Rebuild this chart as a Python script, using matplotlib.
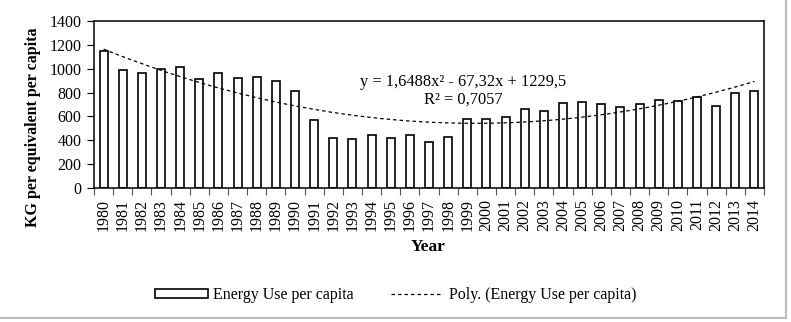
import numpy as np
import matplotlib
matplotlib.use("Agg")
import matplotlib.pyplot as plt
from matplotlib.patches import Patch
from matplotlib.lines import Line2D

plt.rcParams['font.family'] = ['Liberation Serif', 'DejaVu Serif']
plt.rcParams['font.size'] = 11

anos = [str(a) for a in range(1980, 2015)]
energia = [1150, 990, 967, 998, 1017, 914, 964, 922, 928, 897, 813,
           573, 419, 413, 441, 419, 447, 383, 425, 576, 581, 595,
           660, 648, 712, 718, 704, 676, 707, 735, 729, 763, 685, 799, 810]

# coeficientes da linha de tendencia (Excel, x = 1..35)
coef_poli = [1.6488, -67.32, 1229.5]
texto_eq = "y = 1,6488x² - 67,32x + 1229,5"
texto_r2 = "R² = 0,7057"

estilo_tr = (0, (2.8, 2.4))

fig = plt.figure(figsize=(7.91, 3.22), dpi=100)
ax = fig.add_axes([94/791, 1 - 188/322, 670/791, 167/322])

pos = np.arange(len(anos))
ax.bar(pos, energia, width=0.42, color='white', edgecolor='black', linewidth=1.2)

# curva polinomial
x_t = np.linspace(1, len(anos), 300)
y_t = np.polyval(coef_poli, x_t)
ax.plot(x_t - 1, y_t, color='black', linestyle=estilo_tr, linewidth=0.9)

ax.set_xlim(-0.5, len(anos) - 0.5)
ax.set_ylim(0, 1400)
ax.set_yticks(range(0, 1401, 200))
ax.set_xticks(pos)
ax.set_xticklabels(anos, rotation=90)
ax.set_xticks(np.arange(-0.5, len(anos), 1), minor=True)
ax.tick_params(axis='x', which='major', length=0, pad=8, labelsize=11.5)
ax.tick_params(axis='x', which='minor', length=5, width=0.8, color='#555555')
ax.tick_params(axis='y', length=5, width=0.8, pad=4, labelsize=11.5)
for s in ax.spines.values():
    s.set_linewidth(1.1)

ax.text(0.551, 0.635, texto_eq, transform=ax.transAxes, ha='center', va='center', fontsize=11.8)
ax.text(0.551, 0.527, texto_r2, transform=ax.transAxes, ha='center', va='center', fontsize=11.8)

fig.text(33/791, 1 - 127.5/322, 'KG per equivalent per capita', rotation=90,
         ha='center', va='center', fontweight='bold', fontsize=11.5)
fig.text(428.5/791, 1 - 247/322, 'Year', ha='center', va='center', fontweight='bold', fontsize=12.5)

handles = [Patch(facecolor='white', edgecolor='black', linewidth=1.2),
           Line2D([0], [0], color='black', linestyle=estilo_tr, linewidth=0.9)]
fig.legend(handles, ['Energy Use per capita', 'Poly. (Energy Use per capita)'],
           loc='center left', bbox_to_anchor=(147/791, 1 - 295/322), ncol=2, frameon=False,
           borderpad=0, handlelength=3.3, handleheight=0.45, handletextpad=0.35,
           columnspacing=2.3, fontsize=11.5)

# borda cinza do grafico
fig.add_artist(Line2D([0, 786/791, 786/791], [1 - 318/322, 1 - 318/322, 1],
                      transform=fig.transFigure, color='#bbbbbb', linewidth=1.5))

fig.savefig('out.png', dpi=100)
